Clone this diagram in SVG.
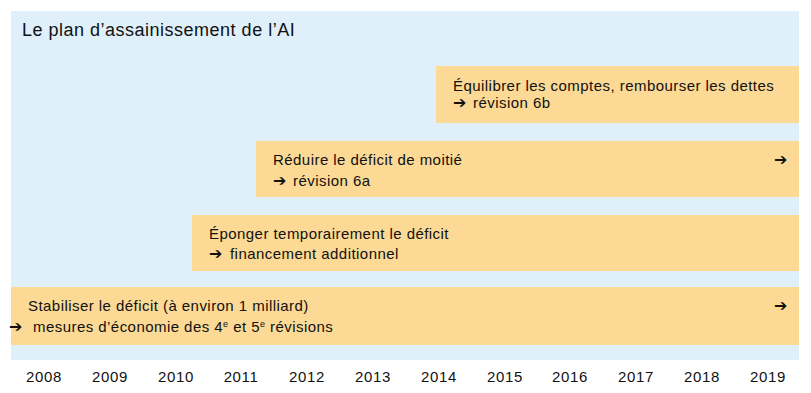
<svg xmlns="http://www.w3.org/2000/svg" width="811" height="393" viewBox="0 0 811 393">
<style>
.t{font-family:"Liberation Sans",Arial,sans-serif;font-size:15px;letter-spacing:0.45px;fill:#111}
.a{font-family:"DejaVu Sans",sans-serif;font-size:16px;fill:#111;font-weight:bold}
.y{font-family:"Liberation Sans",Arial,sans-serif;font-size:15px;letter-spacing:0.6px;fill:#111;text-anchor:middle}
.bar{fill:#fcd994}
</style>
<rect width="811" height="393" fill="#ffffff"/>
<rect x="11" y="11" width="788" height="349" fill="#dff0fb"/>
<text x="22" y="36" class="t" style="font-size:18px;letter-spacing:0.5px">Le plan d’assainissement de l’AI</text>
<g id="connectors"></g>
<g id="n4">
<rect class="bar" x="436" y="66" width="363" height="57"/>
<text x="453" y="91" class="t">Équilibrer les comptes, rembourser les dettes</text>
<text x="453" y="108" class="a">➔</text>
<text x="473" y="108" class="t">révision 6b</text>
</g>
<g id="n3">
<rect class="bar" x="256" y="141" width="543" height="56"/>
<text x="273" y="165" class="t">Réduire le déficit de moitié</text>
<text x="273" y="186" class="a">➔</text>
<text x="293" y="186" class="t">révision 6a</text>
<text x="774" y="165" class="a">➔</text>
</g>
<g id="n2">
<rect class="bar" x="192" y="215" width="607" height="56"/>
<text x="209" y="239" class="t">Éponger temporairement le déficit</text>
<text x="209" y="259" class="a">➔</text>
<text x="230" y="259" class="t">financement additionnel</text>
</g>
<g id="n1">
<rect class="bar" x="11" y="287" width="788" height="58"/>
<text x="28" y="311" class="t">Stabiliser le déficit (à environ 1 milliard)</text>
<text x="9" y="332" class="a">➔</text>
<text x="33" y="332" class="t">mesures d’économie des 4<tspan dy="-5" style="font-size:9px">e</tspan><tspan dy="5"> et 5</tspan><tspan dy="-5" style="font-size:9px">e</tspan><tspan dy="5"> révisions</tspan></text>
<text x="774" y="311" class="a">➔</text>
</g>
<g id="years">
<text class="y" x="44" y="382">2008</text>
<text class="y" x="110" y="382">2009</text>
<text class="y" x="176" y="382">2010</text>
<text class="y" x="241" y="382">2011</text>
<text class="y" x="307" y="382">2012</text>
<text class="y" x="373" y="382">2013</text>
<text class="y" x="439" y="382">2014</text>
<text class="y" x="505" y="382">2015</text>
<text class="y" x="570" y="382">2016</text>
<text class="y" x="636" y="382">2017</text>
<text class="y" x="702" y="382">2018</text>
<text class="y" x="768" y="382">2019</text>
</g>
</svg>
